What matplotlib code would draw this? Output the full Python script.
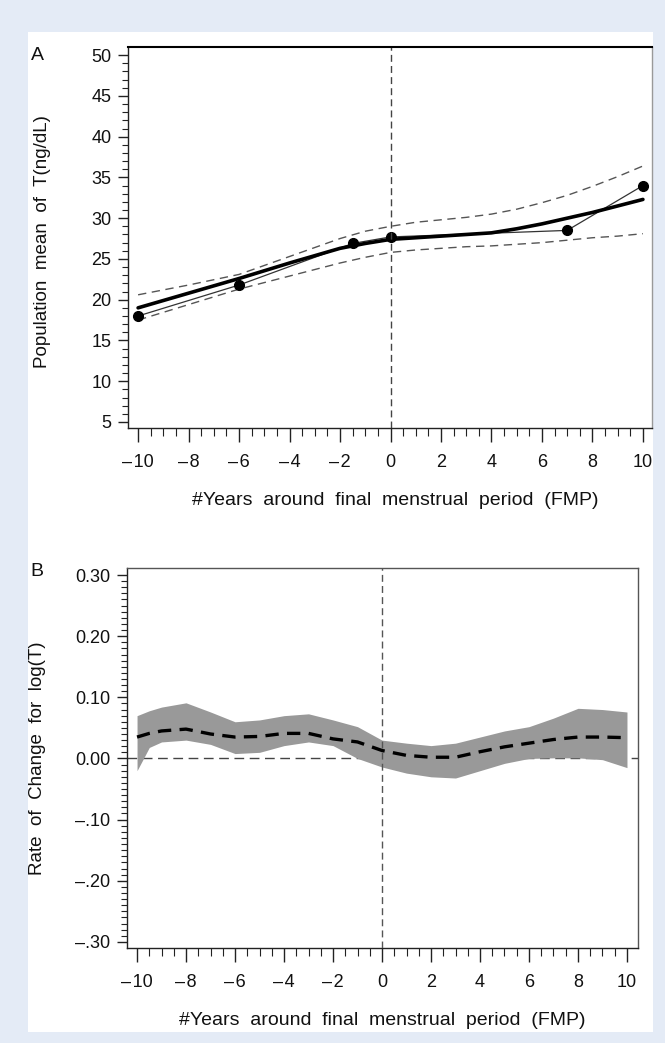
import matplotlib.pyplot as plt
import matplotlib.patches as patches
import numpy as np

plt.rcParams['font.family'] = ['Liberation Sans', 'DejaVu Sans']

# Panel A: observed means and fitted curve with 95% band
obs_x = [-10, -6, -1.5, 0, 7, 10]
obs_y = [18.0, 21.8, 26.9, 27.7, 28.5, 34.0]

fit_x = [-10, -8, -6, -4, -2, -1, 0, 1, 2, 3, 4, 5, 6, 7, 8, 9, 10]
fit_y = [19.0, 20.8, 22.6, 24.5, 26.3, 26.9, 27.4, 27.6, 27.8, 28.0, 28.2, 28.7, 29.3, 30.0, 30.7, 31.5, 32.3]
upper_a = [20.6, 21.8, 23.1, 25.3, 27.5, 28.4, 29.0, 29.5, 29.8, 30.1, 30.5, 31.1, 31.9, 32.8, 33.9, 35.1, 36.4]
lower_a = [17.5, 19.4, 21.3, 22.9, 24.5, 25.2, 25.8, 26.1, 26.3, 26.5, 26.6, 26.8, 27.0, 27.3, 27.6, 27.8, 28.1]

# Panel B: rate of change for log(T)
rate_x = [-10, -9.5, -9, -8, -7, -6, -5, -4, -3, -2, -1, 0, 1, 2, 3, 4, 5, 6, 7, 8, 9, 10]
rate_mean = [0.035, 0.041, 0.045, 0.048, 0.040, 0.035, 0.036, 0.041, 0.041, 0.032, 0.027,
             0.013, 0.005, 0.002, 0.002, 0.011, 0.019, 0.025, 0.031, 0.035, 0.035, 0.034]
rate_upper = [0.070, 0.078, 0.084, 0.091, 0.076, 0.060, 0.063, 0.070, 0.073, 0.063, 0.052,
              0.030, 0.025, 0.021, 0.025, 0.035, 0.045, 0.052, 0.066, 0.082, 0.080, 0.076]
rate_lower = [-0.020, 0.018, 0.027, 0.030, 0.023, 0.008, 0.010, 0.021, 0.027, 0.021, 0.000,
              -0.014, -0.024, -0.030, -0.032, -0.020, -0.008, 0.000, 0.001, 0.001, -0.002, -0.015]

x_ticks = list(range(-10, 11, 2))
x_ticklabels = [('\u2013\u200a' + str(-v)) if v < 0 else str(v) for v in x_ticks]
b_yticks = [-0.3, -0.2, -0.1, 0.0, 0.1, 0.2, 0.3]
b_yticklabels = ['\u2013.30', '\u2013.20', '\u2013.10', '0.00', '0.10', '0.20', '0.30']
xlabel = '#Years  around  final  menstrual  period  (FMP)'

W, H = 665, 1043
fig = plt.figure(figsize=(W / 100, H / 100), dpi=100)
fig.patch.set_facecolor('#e4ebf6')
fig.add_artist(patches.Rectangle((28 / W, 1 - 1032 / H), (653 - 28) / W, (1032 - 32) / H,
                                 transform=fig.transFigure, facecolor='white',
                                 edgecolor='none', zorder=-5))


def axes_px(left, top, right, bottom):
    ax = fig.add_axes([left / W, 1 - bottom / H, (right - left) / W, (bottom - top) / H])
    ax.set_zorder(2)
    return ax


def style_axes(ax):
    ax.set_facecolor('white')
    for s in ax.spines.values():
        s.set_color('#222222')
        s.set_linewidth(1.0)
    ax.tick_params(which='both', direction='out', color='#222222', labelsize=13,
                   labelcolor='#111111', top=False, right=False)
    ax.tick_params(which='major', length=7, width=1.0)
    ax.tick_params(which='minor', length=4, width=0.8)
    ax.tick_params(axis='x', which='major', length=10, pad=9)
    ax.tick_params(axis='x', which='minor', length=6)
    ax.tick_params(axis='y', which='major', pad=5)


# ---- Panel A ----
axA = axes_px(128, 47, 652, 428)
style_axes(axA)
axA.spines['top'].set_linewidth(1.5)
axA.spines['top'].set_color('black')
axA.spines['right'].set_color('#999999')
axA.plot(fit_x, upper_a, color='#555555', lw=1.0, dashes=(6, 4))
axA.plot(fit_x, lower_a, color='#555555', lw=1.0, dashes=(6, 4))
axA.plot(obs_x, obs_y, color='#333333', lw=0.9, marker='o', ms=7, mfc='black', mec='black')
axA.plot(fit_x, fit_y, color='black', lw=2.6, solid_capstyle='round')
axA.axvline(0, color='#444444', lw=1.0, dashes=(5, 3))
axA.set_xlim(-10.40, 10.36)
axA.set_ylim(4.26, 51.0)
axA.set_xticks(x_ticks)
axA.set_xticks(np.arange(-10, 10.1, 0.5), minor=True)
axA.set_xticklabels(x_ticklabels)
axA.set_yticks(np.arange(5, 51, 5))
axA.set_yticks(np.arange(5, 51, 1), minor=True)
axA.set_xlabel(xlabel, fontsize=14, color='#111111')
axA.xaxis.set_label_coords(0.51, -0.19)
axA.xaxis.label.set_va('center')
axA.set_ylabel('Population  mean  of  T(ng/dL)', fontsize=13.5, color='#111111')
axA.yaxis.set_label_coords(-0.163, 0.49)
axA.yaxis.label.set_va('center')
fig.text(31 / W, 1 - 56 / H, 'A', fontsize=14, va='center', ha='left', color='#111111')

# ---- Panel B ----
axB = axes_px(127, 568, 638, 948)
style_axes(axB)
axB.spines['right'].set_color('#555555')
axB.spines['top'].set_color('#555555')
axB.fill_between(rate_x, rate_lower, rate_upper, color='#999999', lw=0, zorder=2)
axB.plot(rate_x, rate_mean, color='black', lw=2.4, dashes=(4, 2.5), zorder=3)
axB.axhline(0, color='#444444', lw=1.0, dashes=(7, 4), zorder=1)
axB.axvline(0, color='#555555', lw=1.0, dashes=(5, 3), zorder=4)
axB.set_xlim(-10.41, 10.45)
axB.set_ylim(-0.31, 0.3115)
axB.set_xticks(x_ticks)
axB.set_xticks(np.arange(-10, 10.1, 0.5), minor=True)
axB.set_xticklabels(x_ticklabels)
axB.set_yticks(b_yticks)
axB.set_yticklabels(b_yticklabels)
axB.set_yticks(np.arange(-0.30, 0.3001, 0.01), minor=True)
axB.set_xlabel(xlabel, fontsize=14, color='#111111')
axB.xaxis.set_label_coords(0.5, -0.19)
axB.xaxis.label.set_va('center')
axB.set_ylabel('Rate  of  Change  for  log(T)', fontsize=13.5, color='#111111')
axB.yaxis.set_label_coords(-0.175, 0.5)
axB.yaxis.label.set_va('center')
fig.text(30 / W, 1 - 572 / H, 'B', fontsize=14, va='center', ha='left', color='#111111')

fig.savefig('out.png', dpi=100, facecolor=fig.get_facecolor())
